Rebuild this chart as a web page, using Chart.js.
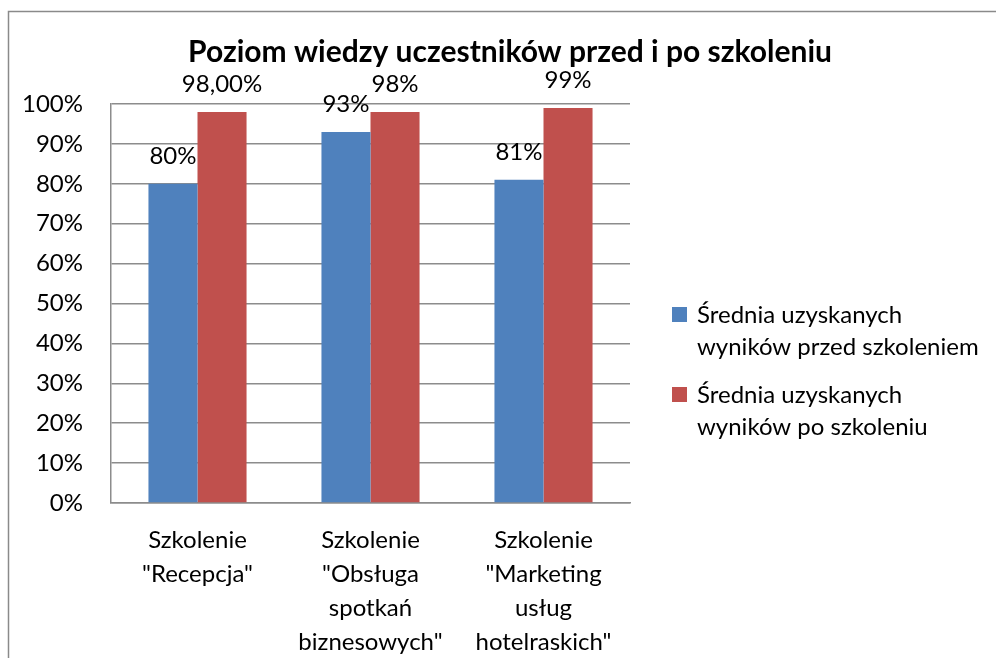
<!DOCTYPE html>
<html>
<head>
<meta charset="utf-8">
<script src="https://cdn.jsdelivr.net/npm/chart.js@4/dist/chart.umd.min.js"></script>
<style>
html,body{margin:0;padding:0;background:#fff;}
#wrap{position:relative;width:996px;height:658px;}
</style>
</head>
<body>
<div id="wrap"><canvas id="c" width="996" height="658"></canvas></div>
<script>
const titleText = 'Poziom wiedzy uczestników przed i po szkoleniu';
const categories = [
  ['Szkolenie', '"Recepcja"'],
  ['Szkolenie', '"Obsługa', 'spotkań', 'biznesowych"'],
  ['Szkolenie', '"Marketing', 'usług', 'hotelraskich"']
];
const seriesNames = [
  ['Średnia uzyskanych', 'wyników przed szkoleniem'],
  ['Średnia uzyskanych', 'wyników po szkoleniu']
];
const beforeValues = [0.80, 0.93, 0.81];
const afterValues = [0.98, 0.98, 0.99];
const beforeLabels = ['80%', '93%', '81%'];
const afterLabels = ['98,00%', '98%', '99%'];
const yTicks = [0, 0.1, 0.2, 0.3, 0.4, 0.5, 0.6, 0.7, 0.8, 0.9, 1.0];
const colors = ['#4F81BD', '#C0504D'];

const FONT = 'Lato, "Open Sans", sans-serif';
const FS = 24;
const GRID = '#8c8c8c';

const decorPlugin = {
  id: 'decor',
  beforeDraw(chart) {
    const ctx = chart.ctx;
    ctx.save();
    ctx.fillStyle = '#fff';
    ctx.fillRect(0, 0, chart.width, chart.height);
    ctx.strokeStyle = '#8a8a8a';
    ctx.lineWidth = 1.5;
    ctx.beginPath();
    ctx.moveTo(8.5, chart.height);
    ctx.lineTo(8.5, 11.5);
    ctx.lineTo(chart.width, 11.5);
    ctx.stroke();
    ctx.restore();
  },
  afterDraw(chart) {
    const ctx = chart.ctx;
    ctx.save();
    ctx.fillStyle = '#000';
    ctx.font = 'bold 30px ' + FONT;
    ctx.textAlign = 'center';
    ctx.textBaseline = 'middle';
    ctx.fillText(titleText, 510, 52);
    ctx.font = FS + 'px ' + FONT;
    ctx.textAlign = 'left';
    const tops = [315, 395];
    seriesNames.forEach((lines, i) => {
      ctx.fillStyle = colors[i];
      ctx.fillRect(672, tops[i] - 8, 15, 15);
      ctx.fillStyle = '#000';
      lines.forEach((ln, j) => ctx.fillText(ln, 697, tops[i] + j * 32));
    });
    ctx.restore();
  },
  afterDatasetsDraw(chart) {
    const ctx = chart.ctx;
    const lbls = [beforeLabels, afterLabels];
    ctx.save();
    ctx.fillStyle = '#000';
    ctx.font = FS + 'px ' + FONT;
    ctx.textAlign = 'center';
    ctx.textBaseline = 'middle';
    chart.data.datasets.forEach((ds, di) => {
      const meta = chart.getDatasetMeta(di);
      meta.data.forEach((el, i) => {
        ctx.fillText(lbls[di][i], el.x, el.y - 28);
      });
    });
    ctx.restore();
  }
};

new Chart(document.getElementById('c'), {
  type: 'bar',
  data: {
    labels: categories,
    datasets: [
      { label: seriesNames[0].join(' '), data: beforeValues, backgroundColor: colors[0] },
      { label: seriesNames[1].join(' '), data: afterValues, backgroundColor: colors[1] }
    ]
  },
  options: {
    responsive: false,
    animation: false,
    devicePixelRatio: 1,
    layout: { padding: { top: 104, right: 366, left: 0, bottom: 0 } },
    plugins: { legend: { display: false }, title: { display: false }, tooltip: { enabled: false } },
    datasets: { bar: { categoryPercentage: 0.567, barPercentage: 1.0 } },
    scales: {
      x: {
        grid: { display: false, drawTicks: false },
        border: { display: true, color: GRID, width: 1.5 },
        ticks: { color: '#000', font: { family: FONT, size: FS, lineHeight: 1.42 }, padding: 20, maxRotation: 0, autoSkip: false },
        afterFit(scale) { scale.height = 155; }
      },
      y: {
        min: 0, max: 1,
        afterBuildTicks(scale) { scale.ticks = yTicks.map(v => ({ value: v })); },
        grid: { color: GRID, lineWidth: 1.5, drawTicks: false },
        border: { display: true, color: GRID, width: 1.5 },
        ticks: { color: '#000', font: { family: FONT, size: FS }, padding: 28,
          callback: v => Math.round(v * 100) + '%' },
        afterFit(scale) { scale.width = 111; }
      }
    }
  },
  plugins: [decorPlugin]
});
</script>
</body>
</html>
